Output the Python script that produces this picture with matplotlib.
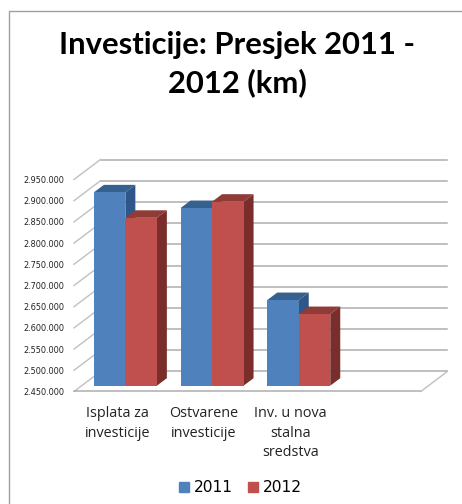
import matplotlib
matplotlib.use('Agg')
import matplotlib.pyplot as plt
from matplotlib.lines import Line2D
from matplotlib.patches import Polygon, Patch
from matplotlib.transforms import Affine2D

categories = ['Isplata za\ninvesticije', 'Ostvarene\ninvesticije', 'Inv. u nova\nstalna\nsredstva']
v2011 = [2906000, 2869000, 2652000]
v2012 = [2846000, 2884000, 2619000]
yticks = [2450000, 2500000, 2550000, 2600000, 2650000, 2700000,
          2750000, 2800000, 2850000, 2900000, 2950000]

W, H = 462, 504
fig = plt.figure(figsize=(W / 100, H / 100), dpi=100)
# axes is the front plane of the fake 3d box
ax = fig.add_axes([74 / W, 1 - 391.5 / H, 346.8 / W, 212 / H])
ax.patch.set_alpha(0)
for s in ax.spines.values():
    s.set_visible(False)

# pixel offsets: back wall and bar plane
back = ax.transData + Affine2D().translate(26.5, 20)
mid = ax.transData + Affine2D().translate(8, 5.8)

# same offset as back, in data units, for the diagonals
wall_dx = 26.5 / 86.7
wall_dy = 20 / 212 * 500000

wall = '#adadad'
diag = '#c0c0c0'
for v in yticks:
    ax.plot([-0.5, 3.5], [v, v], color=wall, lw=1.1, transform=back, clip_on=False, zorder=1)
    ax.plot([-0.5, -0.5 + wall_dx], [v, v + wall_dy], color=diag, lw=1, clip_on=False, zorder=1)
ax.plot([-0.5, 3.5], [2450000, 2450000], color=wall, lw=1.1, clip_on=False, zorder=1)
ax.plot([3.5, 3.5 + wall_dx], [2450000, 2450000 + wall_dy], color=diag, lw=1, clip_on=False, zorder=1)

bw = 31.5 / 86.7
ddx = 10 / 86.7   # bar depth in category units
ddy = 7.5 / 212 * 500000  # bar depth in value units


def draw_bars(xs, vals, col, top_col, side_col, z):
    for x, v in zip(xs, vals):
        top = Polygon([(x, v), (x + bw, v), (x + bw + ddx, v + ddy), (x + ddx, v + ddy)],
                      fc=top_col, ec='none', transform=mid, clip_on=False, zorder=z)
        side = Polygon([(x + bw, 2450000), (x + bw + ddx, 2450000 + ddy),
                        (x + bw + ddx, v + ddy), (x + bw, v)],
                       fc=side_col, ec='none', transform=mid, clip_on=False, zorder=z)
        ax.add_patch(top)
        ax.add_patch(side)
    ax.bar(xs, [v - 2450000 for v in vals], bw, bottom=2450000, align='edge', color=col,
           transform=mid, clip_on=False, zorder=z + 0.1)


pos = [0, 1, 2]
draw_bars([p - bw for p in pos], v2011, '#4f81bd', '#35608f', '#2f5688', 3)
draw_bars(pos, v2012, '#c0504d', '#8f3b38', '#7a2e2c', 4)
ax.set_xlim(-0.5, 3.5)
ax.set_ylim(2450000, 2950000)

ax.set_yticks(yticks)
ax.set_yticklabels([f'{v:,}'.replace(',', '.') for v in yticks], fontsize=5.9, color='#222222')
ax.set_xticks(pos)
ax.set_xticklabels(categories, fontsize=10.4, color='#222222', linespacing=1.42, family='Open Sans')
ax.tick_params(axis='y', length=0, pad=7.2)
ax.tick_params(axis='x', length=0, pad=10.5)

fig.text(237 / W, 1 - 64 / H, 'Investicije: Presjek 2011 -\n2012 (km)', ha='center', va='center',
         fontsize=22.3, fontweight='bold', family='Lato', linespacing=1.37, color='black')

fig.legend(handles=[Patch(color='#4f81bd', label='2011'), Patch(color='#c0504d', label='2012')],
           loc='center', bbox_to_anchor=(240.5 / W, 1 - 488 / H), ncol=2, frameon=False, fontsize=11.2,
           handlelength=0.64, handleheight=0.64, handletextpad=0.32, columnspacing=0.95,
           borderpad=0, borderaxespad=0)

# chart frame, only left and top show in the crop
fig.add_artist(Line2D([8.5 / W, 8.5 / W, 1], [0, 1 - 11 / H, 1 - 11 / H], color='#a0a0a0', lw=1))

fig.savefig('out.png', dpi=100)
